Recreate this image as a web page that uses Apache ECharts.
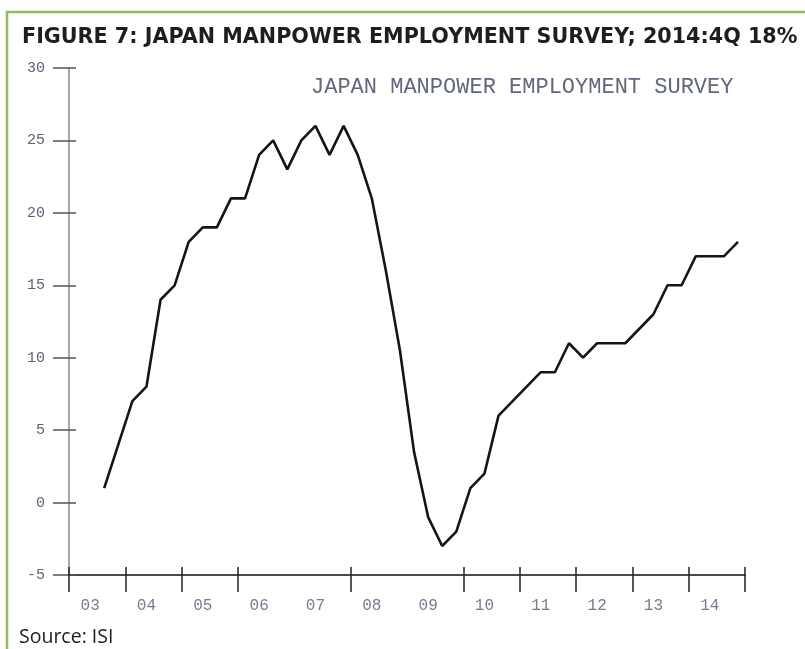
<!DOCTYPE html>
<html>
<head>
<meta charset="utf-8">
<script src="https://cdn.jsdelivr.net/npm/echarts@6/dist/echarts.min.js"></script>
<style>
  html, body { margin: 0; padding: 0; background: #fff; }
  #chart { width: 805px; height: 649px; }
</style>
</head>
<body>
<div id="chart"></div>
<script>
// year labels on the x axis, one band of four quarters each
const years = ["03", "04", "05", "06", "07", "08", "09", "10", "11", "12", "13", "14"];
const quarterNames = ["Q1", "Q2", "Q3", "Q4"];
// years whose start tick is not drawn in the original
const yearsWithoutTick = ["07", "09"];

// net employment outlook, % (2003Q1 .. 2014Q4)
const surveyValues = [
  null, null, 1, 4, 7, 8, 14, 15, 18, 19, 19, 21,
  21, 24, 25, 23, 25, 26, 24, 26, 24, 21, 16, 10.5,
  3.5, -1, -3, -2, 1, 2, 6, 7, 8, 9, 9, 11,
  10, 11, 11, 11, 12, 13, 15, 15, 17, 17, 17, 18
];

const yMin = -5;
const yMax = 30;
const yStep = 5;

const seriesName = "JAPAN MANPOWER EMPLOYMENT SURVEY";
const titleText = "FIGURE 7: JAPAN MANPOWER EMPLOYMENT SURVEY; 2014:4Q 18%";
const sourceText = "Source: ISI";

const quarters = [];
years.forEach(y => quarterNames.forEach(q => quarters.push(y + q)));

const chart = echarts.init(document.getElementById("chart"));

// tick at the start of each year (except the skipped ones)
const yearTick = index => index % 4 === 0 && yearsWithoutTick.indexOf(years[index / 4]) < 0;
// year label sits around the second quarter
const yearLabel = index => index % 4 === 1;

const labelFont = "Liberation Mono";

const option = {
  backgroundColor: "#fff",
  animation: false,
  title: [
    {
      text: titleText,
      left: 17,
      top: 22,
      textStyle: { fontFamily: "DejaVu Sans", fontWeight: 700, fontSize: 20.7, color: "#1e1e1e" }
    },
    {
      text: sourceText,
      left: 14,
      top: 622,
      textStyle: { fontFamily: "Open Sans", fontWeight: 400, fontSize: 19.5, color: "#222" }
    }
  ],
  legend: {
    data: [seriesName],
    left: 300,
    top: 71,
    itemWidth: 0,
    itemHeight: 0,
    textStyle: { fontFamily: labelFont, fontSize: 22, color: "#62667f" }
  },
  graphic: [
    {
      type: "rect",
      silent: true,
      z: -1,
      shape: { x: 7, y: 12, width: 840, height: 680 },
      style: { fill: null, stroke: "#8fbc5f", lineWidth: 2.5 }
    }
  ],
  grid: { left: 69, right: 60, top: 68, bottom: 74 },
  xAxis: [
    {
      type: "category",
      data: quarters,
      position: "bottom",
      boundaryGap: true,
      axisLine: { onZero: false, lineStyle: { color: "#111", width: 1.5 } },
      axisTick: { show: true, interval: yearTick, length: 17, lineStyle: { color: "#222", width: 1.5 } },
      axisLabel: {
        interval: yearLabel,
        margin: 23,
        fontFamily: labelFont,
        fontSize: 16,
        color: "#7a7a92",
        formatter: (v, i) => years[Math.floor(i / 4)]
      },
      splitLine: { show: false }
    },
    {
      type: "category",
      data: quarters,
      position: "bottom",
      boundaryGap: true,
      axisLine: { show: false, onZero: false },
      axisTick: { show: true, interval: yearTick, inside: true, length: 8, lineStyle: { color: "#222", width: 1.5 } },
      axisLabel: { show: false },
      splitLine: { show: false }
    }
  ],
  yAxis: [
    {
      type: "value",
      min: yMin,
      max: yMax,
      interval: yStep,
      position: "left",
      axisLine: { show: true, onZero: false, lineStyle: { color: "#8a8a8a", width: 1.5 } },
      axisTick: { show: true, length: 16, lineStyle: { color: "#555", width: 1.5 } },
      axisLabel: { margin: 24, fontFamily: labelFont, fontSize: 15, color: "#5f5f78" },
      splitLine: { show: false }
    },
    {
      type: "value",
      min: yMin,
      max: yMax,
      interval: yStep,
      position: "left",
      axisLine: { show: false, onZero: false },
      axisTick: { show: true, inside: true, length: 7, lineStyle: { color: "#555", width: 1.5 } },
      axisLabel: { show: false },
      splitLine: { show: false }
    }
  ],
  series: [
    {
      name: seriesName,
      type: "line",
      data: surveyValues,
      xAxisIndex: 0,
      yAxisIndex: 0,
      showSymbol: false,
      symbol: "none",
      connectNulls: false,
      lineStyle: { color: "#151515", width: 2.6 },
      itemStyle: { color: "#151515" }
    }
  ]
};

chart.setOption(option);
</script>
</body>
</html>
